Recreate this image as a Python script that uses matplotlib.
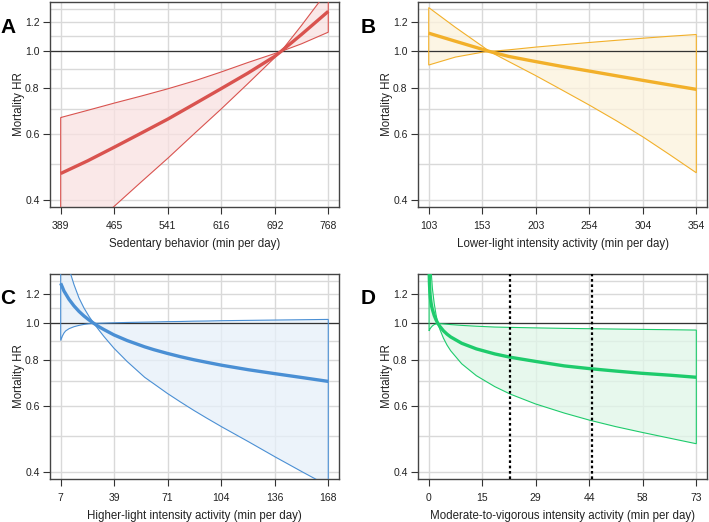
import numpy as np
import matplotlib
matplotlib.use('Agg')
import matplotlib.pyplot as plt
from matplotlib.ticker import FixedLocator, NullFormatter

plt.rcParams['font.family'] = ['Liberation Sans', 'DejaVu Sans']

# panel A - sedentary behaviour
a_x = [389, 427, 465, 503, 541, 579, 616, 654, 692, 701, 730, 768]
a_hr = [0.472, 0.51, 0.555, 0.605, 0.66, 0.725, 0.795, 0.875, 0.97, 1.0, 1.11, 1.28]
a_ci1 = [0.666, 0.696, 0.728, 0.760, 0.795, 0.835, 0.881, 0.934, 0.987, 1.0, 1.048, 1.126]
a_ci2 = [0.289, 0.335, 0.386, 0.448, 0.519, 0.605, 0.701, 0.820, 0.962, 1.0, 1.173, 1.46]
a_ticks = [389, 465, 541, 616, 692, 768]

# panel B - lower-light intensity
b_x = [103, 128, 153, 160, 178, 203, 228, 254, 279, 304, 329, 354]
b_hr = [1.119, 1.065, 1.014, 1.0, 0.97, 0.94, 0.912, 0.886, 0.861, 0.837, 0.814, 0.792]
b_ci1 = [1.31, 1.16, 1.034, 1.0, 0.94, 0.863, 0.789, 0.718, 0.653, 0.591, 0.53, 0.474]
b_ci2 = [0.92, 0.966, 0.995, 1.0, 1.01, 1.027, 1.042, 1.057, 1.071, 1.085, 1.098, 1.11]
b_ticks = [103, 153, 203, 254, 304, 354]

# panel C - higher-light intensity
c_x = [7, 8, 9, 10, 12, 15, 18, 21, 24, 27, 30, 33, 39, 47, 57.5, 63, 71, 79, 87, 95,
       104, 120, 136, 152, 168]
c_hr = [1.28, 1.25, 1.22, 1.20, 1.16, 1.114, 1.077, 1.047, 1.022, 1.0, 0.98, 0.963,
        0.932, 0.90, 0.866, 0.851, 0.832, 0.815, 0.80, 0.787, 0.773, 0.752, 0.734,
        0.717, 0.70]
c_ci1 = [2.0, 1.85, 1.72, 1.6, 1.40, 1.27, 1.17, 1.1, 1.045, 1.0, 0.96, 0.923, 0.859,
         0.791, 0.718, 0.69, 0.651, 0.617, 0.586, 0.558, 0.529, 0.483, 0.44, 0.402, 0.368]
c_ci2 = [0.90, 0.925, 0.943, 0.955, 0.968, 0.98, 0.988, 0.994, 0.998, 1.0, 1.001, 1.002,
         1.004, 1.006, 1.008, 1.009, 1.011, 1.012, 1.014, 1.015, 1.017, 1.019, 1.021,
         1.023, 1.025]
c_ticks = [7, 39, 71, 104, 136, 168]

# panel D - MVPA
d_x = [0.1, 0.2, 0.3, 0.45, 0.6, 0.8, 1, 1.5, 2, 2.5, 3, 4, 5, 6, 9, 13, 18, 22.3,
       29, 37, 44, 51, 58, 66, 73]
d_hr = [1.40, 1.28, 1.22, 1.17, 1.14, 1.11, 1.09, 1.05, 1.022, 1.0, 0.983, 0.956,
        0.936, 0.92, 0.885, 0.855, 0.829, 0.812, 0.792, 0.77, 0.757, 0.746, 0.736,
        0.727, 0.718]
d_ci1 = [1.9, 1.7, 1.6, 1.48, 1.4, 1.32, 1.24, 1.13, 1.055, 1.0, 0.966, 0.914, 0.875,
         0.845, 0.78, 0.725, 0.678, 0.647, 0.61, 0.576, 0.551, 0.53, 0.512, 0.493, 0.477]
d_ci2 = [0.955, 0.96, 0.965, 0.97, 0.975, 0.98, 0.985, 0.993, 0.997, 1.0, 0.999, 0.997,
         0.995, 0.993, 0.988, 0.983, 0.978, 0.976, 0.973, 0.970, 0.968, 0.966, 0.964,
         0.962, 0.96]
d_ticks = [0, 15, 29, 44, 58, 73]
d_guides = [22.3, 44.5]

y_major = [0.4, 0.6, 0.8, 1.0, 1.2]
y_minor = [0.5, 0.7, 0.9, 1.1, 1.3]

panels = [
    ('A', a_x, a_hr, a_ci1, a_ci2, a_ticks, 'Sedentary behavior (min per day)', '#d9534f', '#f9e1e1'),
    ('B', b_x, b_hr, b_ci1, b_ci2, b_ticks, 'Lower-light intensity activity (min per day)', '#f2b02a', '#fcf2dc'),
    ('C', c_x, c_hr, c_ci1, c_ci2, c_ticks, 'Higher-light intensity activity (min per day)', '#4a8fd4', '#e6eff9'),
    ('D', d_x, d_hr, d_ci1, d_ci2, d_ticks, 'Moderate-to-vigorous intensity activity (min per day)', '#1ecb6c', '#e0f6e8'),
]

boxes = [
    [0.0705, 0.6034, 0.4076, 0.3926],
    [0.5896, 0.6034, 0.4076, 0.3926],
    [0.0705, 0.0824, 0.4076, 0.3926],
    [0.5896, 0.0824, 0.4076, 0.3926],
]
letter_pos = [(0.0, 0.948), (0.509, 0.948), (0.0, 0.429), (0.509, 0.429)]

fig = plt.figure(figsize=(7.09, 5.22), dpi=100)

for (letter, x, hr, ci1, ci2, ticks, xlabel, col, fillcol), box, lp in zip(panels, boxes, letter_pos):
    ax = fig.add_axes(box)
    ax.set_yscale('log')
    x = np.array(x, dtype=float)
    pad = (ticks[-1] - ticks[0]) * 0.04
    ax.set_xlim(ticks[0] - pad, ticks[-1] + pad)
    ax.set_ylim(0.384, 1.355)

    ax.yaxis.set_major_locator(FixedLocator(y_major))
    ax.yaxis.set_minor_locator(FixedLocator(y_minor))
    ax.yaxis.set_minor_formatter(NullFormatter())
    ax.set_yticklabels(['%.1f' % v for v in y_major])
    tick_pos = np.linspace(ticks[0], ticks[-1], len(ticks))
    ax.set_xticks(tick_pos)
    ax.set_xticklabels([str(t) for t in ticks])

    ax.grid(True, which='both', color='#d9d9d9', lw=1.0, zorder=0)
    ax.set_axisbelow(True)
    ax.tick_params(which='minor', length=0)
    ax.tick_params(which='major', length=5, width=0.8, color='#333333',
                   labelsize=7.5, labelcolor='#222222')
    ax.tick_params(axis='x', pad=5)
    ax.tick_params(axis='y', pad=2.5)
    for s in ax.spines.values():
        s.set_color('#444444')
        s.set_linewidth(1.0)

    ax.axhline(1.0, color='#333333', lw=0.9, zorder=2)

    px = np.concatenate([x, x[::-1]])
    py = np.concatenate([ci1, ci2[::-1]])
    ax.fill(px, py, facecolor=fillcol, alpha=0.75, edgecolor='none', zorder=1)
    ax.fill(px, py, facecolor='none', edgecolor=col, lw=0.8, zorder=3)
    ax.plot(x, hr, color=col, lw=2.4, zorder=4, solid_capstyle='butt')

    if letter == 'D':
        for g in d_guides:
            ax.axvline(g, color='black', lw=1.6, ls=(0, (1.2, 1.2)), zorder=5)

    ax.set_xlabel(xlabel, fontsize=8.3, color='#222222', labelpad=5)
    ax.set_ylabel('Mortality HR', fontsize=8.3, color='#222222', labelpad=0)
    fig.text(lp[0], lp[1], letter, fontsize=15, fontweight='bold', va='center', ha='left')

fig.savefig('out.png', dpi=100)
